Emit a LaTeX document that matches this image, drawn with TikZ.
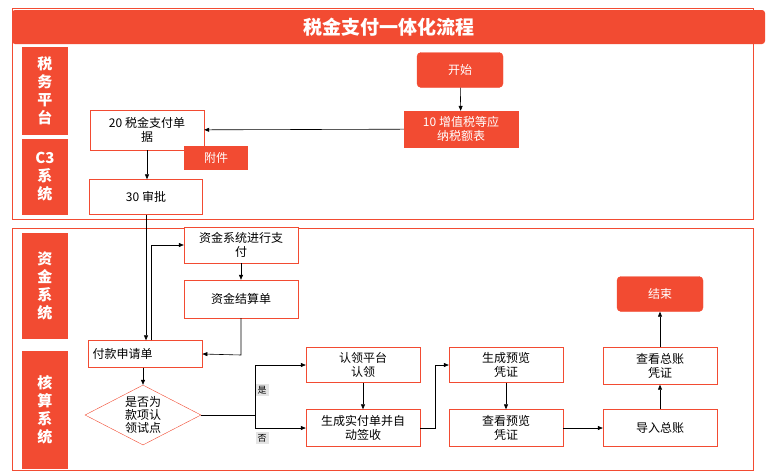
\documentclass[tikz,border=0pt]{standalone}
\usepackage{fontspec}
\setmainfont{Noto Sans CJK SC}
\usetikzlibrary{arrows.meta,shapes.geometric}
\definecolor{rd}{HTML}{F24B32}
\begin{document}
\begin{tikzpicture}[x=1pt,y=-1pt,
 wb/.style={draw=rd,fill=white,minimum width=114pt,minimum height=36pt,align=center,font=\fontsize{12}{14}\selectfont,inner sep=1pt},
 rb/.style={draw=rd,fill=rd,text=white,minimum width=114pt,minimum height=36pt,align=center,font=\fontsize{12}{14}\selectfont,inner sep=1pt},
 lane/.style={fill=rd,text=white,minimum width=46pt,align=center,font=\bfseries\fontsize{15}{18}\selectfont,inner sep=0pt},
 yn/.style={fill=black!10,font=\fontsize{9}{10}\selectfont,inner sep=2pt},
 ar/.style={-{Triangle[length=5pt,width=4pt]},line width=0.6pt}]
\useasboundingbox (0,0) rectangle (769,475);
\draw[rd,line width=0.6pt] (12,8) rectangle (753,219);
\draw[rd,line width=0.6pt] (12,228) rectangle (753,470);
\node[fill=rd,rounded corners=3pt,minimum width=753pt,minimum height=34pt,text=white,font=\bfseries\fontsize{19}{22}\selectfont] (title) at (388.5,27) {税金支付一体化流程};
\node[lane,minimum height=88pt] (l1) at (45,91) {税\\务\\平\\台};
\node[lane,minimum height=76pt] (l2) at (45,177) {C3\\系\\统};
\node[lane,minimum height=106pt] (l3) at (45,286) {资\\金\\系\\统};
\node[lane,minimum height=118pt] (l4) at (45,410) {核\\算\\系\\统};
\node[rb,rounded corners=4pt,minimum width=86pt,minimum height=35pt] (start) at (460,70) {开始};
\node[rb] (n10) at (461,129) {10 增值税等应\\纳税额表};
\node[wb,minimum height=40pt] (n20) at (147,130) {20 税金支付单\\据};
\node[rb,minimum width=63pt,minimum height=23pt] (att) at (216,158) {附件};
\node[wb,minimum width=113pt,minimum height=35pt] (n30) at (146,197) {30 审批};
\node[wb] (pay) at (241,245) {资金系统进行支\\付};
\node[wb,minimum height=38pt] (jsd) at (241,299) {资金结算单};
\node[wb,minimum height=27pt,anchor=west,text width=105pt,align=left] (sq) at (88,354) {付款申请单};
\node[draw=rd,fill=white,shape=diamond,shape aspect=1.9,inner sep=0pt,minimum width=116pt,minimum height=60pt,align=center,font=\fontsize{12}{13}\selectfont] (dia) at (143,415) {是否为\\款项认\\领试点};
\node[wb,minimum height=35pt] (rl) at (363,365) {认领平台\\认领};
\node[wb,minimum height=37pt] (ss) at (363,428) {生成实付单并自\\动签收};
\node[wb,minimum height=35pt] (yl) at (506,365) {生成预览\\凭证};
\node[wb,minimum height=37pt] (ck) at (506,428) {查看预览\\凭证};
\node[wb,minimum height=37pt] (dr) at (660,428) {导入总账};
\node[wb,minimum height=37pt] (zz) at (660,366) {查看总账\\凭证};
\node[rb,rounded corners=4pt,minimum width=86pt,minimum height=35pt] (end) at (660,294) {结束};
\node[yn] (yes) at (262,390) {是};
\node[yn] (no) at (262,438) {否};
\draw[ar] (start) -- (n10);
\draw[ar] (n10) -- (n20);
\draw[ar] (n20.south -| 147,0) -- (n30.north -| 147,0);
\draw[ar] (n30.south -| 146,0) -- (sq.north -| 146,0);
\coordinate (c1) at (151,245);
\draw[ar] (sq.north -| 151,0) -- (c1) -- (pay.west);
\draw[ar] (pay) -- (jsd);
\coordinate (c2) at (241,355);
\draw[ar] (jsd.south) -- (c2) -- (sq.east);
\draw[ar] (sq.south -| dia.north) -- (dia.north);
\coordinate (c3) at (255,415);
\draw (dia.east) -- (c3);
\draw[ar] (c3) |- (rl.west);
\draw[ar] (c3) |- (ss.west);
\draw[ar] (rl) -- (ss);
\coordinate (c4) at (435,428);
\draw[ar] (ss.east) -- (c4) |- (yl.west);
\draw[ar] (yl) -- (ck);
\draw[ar] (ck) -- (dr);
\draw[ar] (dr) -- (zz);
\draw[ar] (zz) -- (end);
\end{tikzpicture}
\end{document}
